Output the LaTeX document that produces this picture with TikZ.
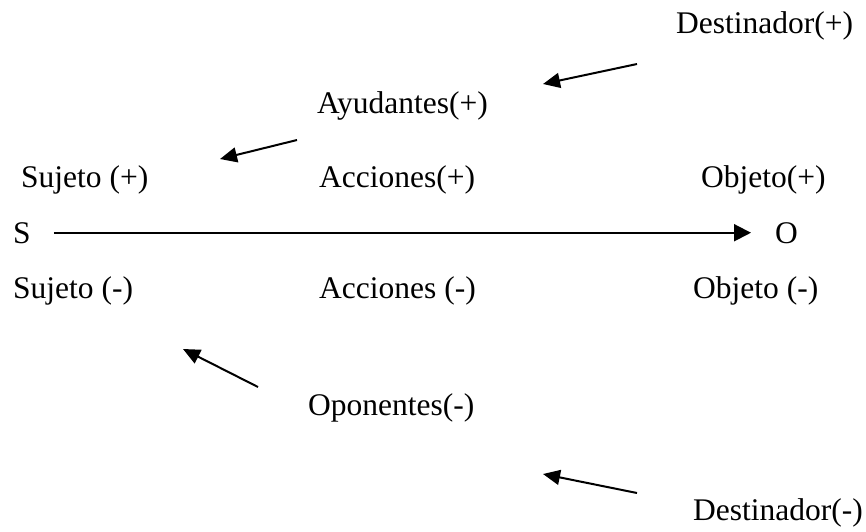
\documentclass[tikz,border=0pt]{standalone}
\usepackage{fontspec}
\setmainfont{Liberation Serif}
\usetikzlibrary{arrows.meta}

\begin{document}
\begin{tikzpicture}[x=1pt,y=-1pt,every node/.style={anchor=base west,inner sep=0pt,font=\fontsize{31.5}{36}\selectfont},>={Triangle[length=17pt,width=15pt]}]
\useasboundingbox (0,0) rectangle (866,531);
\node (Dp) at (676,33) {Destinador(+)};
\node (Ay) at (317,113) {Ayudantes(+)};
\node (Sp) at (21,187) {Sujeto (+)};
\node (Ap) at (319,187) {Acciones(+)};
\node (Op) at (701,187) {Objeto(+)};
\node (S) at (13,243) {S};
\node (O) at (775,243) {O};
\node (Sm) at (13,298) {Sujeto (-)};
\node (Am) at (319,298) {Acciones (-)};
\node (Om) at (693,298) {Objeto (-)};
\node (Opo) at (308,415) {Oponentes(-)};
\node (Dm) at (693,520) {Destinador(-)};
\coordinate (a1) at (637,64);
\coordinate (b1) at (543,84);
\coordinate (a2) at (297,140);
\coordinate (b2) at (220,159);
\coordinate (a3) at (258,387);
\coordinate (b3) at (183,349);
\coordinate (a4) at (637,493);
\coordinate (b4) at (543,474);
\path[->,line width=2pt]
(a1) edge (b1)
(a2) edge (b2)
(a3) edge (b3)
(a4) edge (b4)
(S.east) edge[shorten <=23pt,shorten >=24pt,>={Triangle[length=17pt,width=17pt]}] (O.west);
\end{tikzpicture}
\end{document}
